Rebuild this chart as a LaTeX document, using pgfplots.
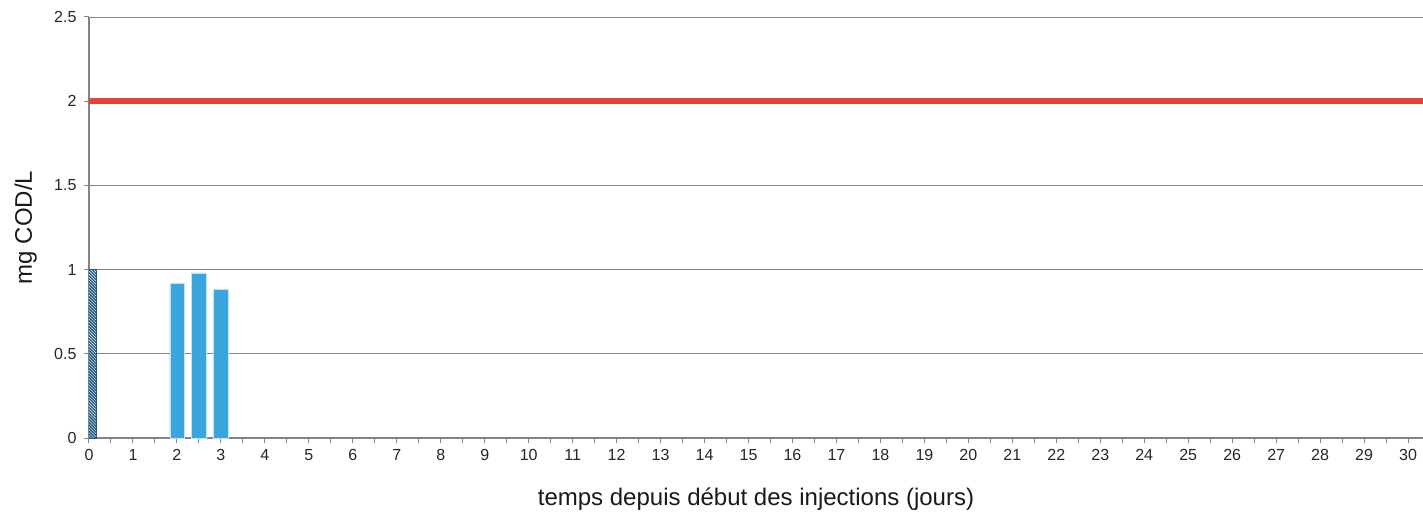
\documentclass[border=0pt]{standalone}
\usepackage{pgfplots}
\pgfplotsset{compat=1.18}
\usepackage{fontspec}
\setmainfont{Liberation Sans}
\usetikzlibrary{patterns}
\definecolor{barblue}{HTML}{3AA6DD}
\definecolor{darkblue}{HTML}{1F5A85}
\definecolor{redline}{HTML}{E8413A}
\definecolor{axgray}{HTML}{808488}
\begin{document}
\begin{tikzpicture}
\useasboundingbox (-89bp,-79bp) rectangle (1334bp,421bp+17bp);
\begin{axis}[
  at={(0,0)}, anchor=origin,
  scale only axis,
  width=1334bp, height=421bp,
  xmin=0, xmax=30.34, ymin=0, ymax=2.5,
  axis lines=left,
  axis line style={-, axgray, line width=1.5bp},
  xtick={0,1,...,30},
  minor xtick={0.5,1.5,...,30},
  ytick={0,0.5,1,1.5,2,2.5},
  yticklabels={0,0.5,1,1.5,2,2.5},
  tick align=outside,
  major tick length=5bp, minor tick length=5bp,
  tick style={axgray, line width=1bp},
  ymajorgrids,
  major grid style={axgray, line width=0.9bp},
  ticklabel style={font=\fontsize{16bp}{18bp}\selectfont, text=black!85},
  xticklabel style={yshift=-3bp},
  yticklabel style={xshift=-4bp},
  /pgf/number format/assume math mode=true,
  xlabel={temps depuis début des injections (jours)},
  ylabel={mg COD/L},
  label style={font=\fontsize{24bp}{27bp}\selectfont, text=black!90},
  xlabel style={at={(axis description cs:0.5,0)}, anchor=base, yshift=-67bp},
  ylabel style={at={(axis description cs:-0.04276,0.5)}, anchor=base},
  clip=true,
]
\addplot[ybar, bar width=0.32, fill=darkblue, draw=darkblue,
  postaction={pattern=north west lines, pattern color=white}]
  coordinates {(0,1.0)};
\addplot[ybar, bar width=0.32, fill=barblue, draw=white!70!barblue, line width=0.8bp]
  coordinates {(2,0.92) (2.5,0.98) (3,0.88)};
\addplot[redline, line width=5.5bp] coordinates {(0,2) (30.34,2)};
\end{axis}
\end{tikzpicture}
\end{document}
